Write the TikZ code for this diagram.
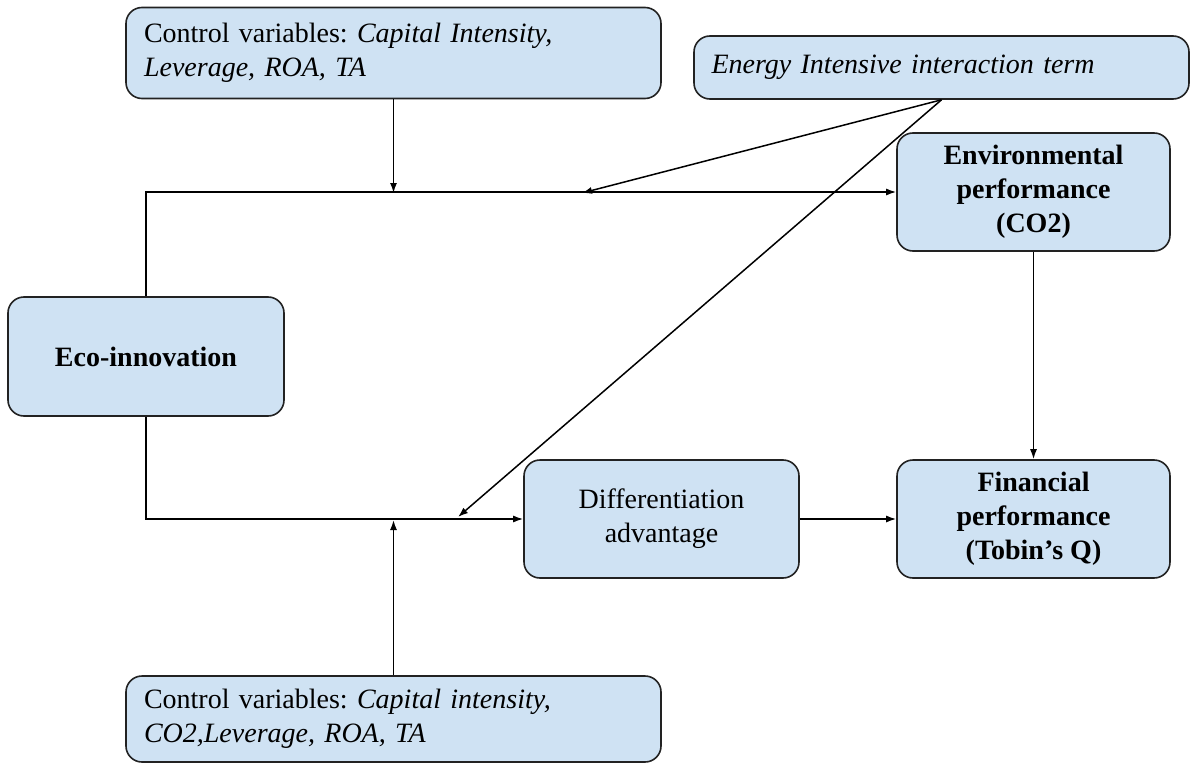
\documentclass[tikz,border=0pt]{standalone}
\usepackage{fontspec}
\setmainfont{Liberation Serif}
\usetikzlibrary{arrows.meta}
\definecolor{boxfill}{HTML}{CFE2F3}
\definecolor{boxline}{HTML}{222222}
\frenchspacing
\tikzset{
  box/.style={draw=boxline, fill=boxfill, line width=1.6pt, rounded corners=16pt,
    inner sep=0pt, align=center, font=\fontsize{28}{34}\selectfont},
  leftbox/.style={box, align=left, inner xsep=18pt},
  arr/.style={-{Latex[length=10pt,width=7pt]}, line width=1.5pt, black}
}
\begin{document}
\begin{tikzpicture}[x=1pt,y=-1pt]
\useasboundingbox (0,0) rectangle (1191,765);
\node[leftbox, minimum width=535, minimum height=91, text width=499] (cv1) at (393.5,53)
  {Control variables: \textit{Capital Intensity,}\\\textit{Leverage, ROA, TA}};
\node[leftbox, minimum width=495, minimum height=63, text width=460, inner xsep=17pt] (energy) at (941.5,67.5)
  {\textit{Energy Intensive interaction term}};
\node[box, minimum width=273, minimum height=118] (env) at (1033.5,192)
  {\textbf{Environmental}\\\textbf{performance}\\\textbf{(CO2)}};
\node[box, minimum width=276, minimum height=119] (eco) at (146,356.5)
  {\textbf{Eco-innovation}};
\node[box, minimum width=275, minimum height=118] (diff) at (661.5,519)
  {Differentiation\\advantage};
\node[box, minimum width=273, minimum height=118] (fin) at (1033.5,519)
  {\textbf{Financial}\\\textbf{performance}\\\textbf{(Tobin’s Q)}};
\node[leftbox, minimum width=535, minimum height=86, text width=499] (cv2) at (393.5,719)
  {Control variables: \textit{Capital intensity,}\\\textit{CO2,Leverage, ROA, TA}};
\coordinate (m1) at (393.5,193);
\coordinate (m2) at (582,193);
\coordinate (m3) at (458,517);
\coordinate (m4) at (393.5,520);
\draw[arr] (eco.north) |- (env.west);
\draw[arr] (eco.south) |- (diff.west);
\draw[arr] (cv1.south) -- (m1);
\draw[arr] (energy.south) -- (m2);
\draw[arr] (energy.south) -- (m3);
\draw[arr] (cv2.north) -- (m4);
\draw[arr] (env.south) -- (fin.north);
\draw[arr] (diff.east) -- (fin.west);
\end{tikzpicture}
\end{document}
